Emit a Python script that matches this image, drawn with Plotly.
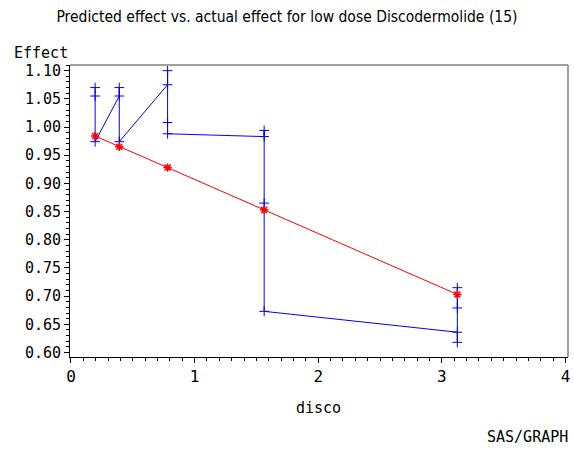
import plotly.graph_objects as go

# Observed (actual) effect, in plotting order
actual_x = [0.1953125, 0.1953125, 0.1953125,
            0.390625, 0.390625, 0.390625,
            0.78125, 0.78125, 0.78125, 0.78125,
            1.5625, 1.5625, 1.5625, 1.5625,
            3.125, 3.125, 3.125, 3.125]
actual_y = [1.070, 1.055, 0.974,
            1.055, 1.070, 0.974,
            1.075, 1.100, 1.008, 0.988,
            0.983, 0.994, 0.865, 0.673,
            0.636, 0.618, 0.715, 0.679]

# Predicted effect
pred_x = [0.1953125, 0.390625, 0.78125, 1.5625, 3.125]
pred_y = [0.984, 0.965, 0.928, 0.853, 0.703]

x_ticks = [0, 1, 2, 3, 4]
x_tick_labels = ["0", "1", "2", "3", "4"]
y_ticks = [0.60, 0.65, 0.70, 0.75, 0.80, 0.85, 0.90, 0.95, 1.00, 1.05, 1.10]
y_tick_labels = ["0.60", "0.65", "0.70", "0.75", "0.80", "0.85",
                 "0.90", "0.95", "1.00", "1.05", "1.10"]

MONO = "DejaVu Sans Mono"
TITLEF = "Liberation Sans Narrow, DejaVu Sans Condensed, Liberation Sans"

fig = go.Figure()
fig.add_trace(go.Scatter(
    x=actual_x, y=actual_y, mode="lines+markers",
    line=dict(color="#0000ff", width=1),
    marker=dict(symbol="cross-thin", size=7, line=dict(color="#0000ff", width=1)),
    showlegend=False, hoverinfo="skip"))
fig.add_trace(go.Scatter(
    x=pred_x, y=pred_y, mode="lines+markers",
    line=dict(color="#ff0000", width=1),
    marker=dict(symbol="asterisk-open", size=7, line=dict(color="#ff0000", width=1.5)),
    showlegend=False, hoverinfo="skip"))

fig.update_layout(
    width=574, height=451,
    margin=dict(l=70, r=6, t=65, b=94, autoexpand=False),
    paper_bgcolor="white", plot_bgcolor="white",
    title=dict(text="Predicted effect vs. actual effect for low dose Discodermolide (15)",
               x=0.5, xref="container", xanchor="center",
               y=1 - 17 / 451, yref="container", yanchor="middle",
               font=dict(family=TITLEF, size=15.5, color="black")),
    xaxis=dict(range=[-0.008, 4.02], showgrid=False, zeroline=False, automargin=False,
               showline=True, linecolor="black", linewidth=1,
               tickvals=x_ticks, ticktext=x_tick_labels, ticklabeloverflow="allow",
               ticks="outside", ticklen=5, tickcolor="black", tickwidth=1,
               minor=dict(dtick=0.1, ticks="outside", ticklen=3, tickcolor="black"),
               tickfont=dict(family=MONO, size=16, color="black")),
    yaxis=dict(range=[0.592, 1.110], showgrid=False, zeroline=False, automargin=False,
               showline=True, linecolor="black", linewidth=1,
               tickvals=y_ticks, ticktext=y_tick_labels, ticklabeloverflow="allow",
               ticks="outside", ticklen=5, tickcolor="black", tickwidth=1,
               minor=dict(dtick=0.01, ticks="outside", ticklen=3, tickcolor="black"),
               tickfont=dict(family=MONO, size=15, color="black")),
    shapes=[
        dict(type="line", xref="paper", yref="paper", x0=0, x1=1, y0=1, y1=1,
             line=dict(color="#808080", width=1.5)),
        dict(type="line", xref="paper", yref="paper", x0=1, x1=1, y0=0, y1=1,
             line=dict(color="#808080", width=1.5)),
    ],
    annotations=[
        dict(text="Effect", xref="paper", yref="paper", x=-0.1165, y=1.041,
             xanchor="left", yanchor="middle", showarrow=False,
             font=dict(family=MONO, size=15, color="black")),
        dict(text="disco", xref="paper", yref="paper", x=0.498, y=-0.1747,
             xanchor="center", yanchor="middle", showarrow=False,
             font=dict(family=MONO, size=15, color="black")),
        dict(text="SAS/GRAPH", xref="paper", yref="paper", x=1.004, y=-0.274,
             xanchor="right", yanchor="middle", showarrow=False,
             font=dict(family=MONO, size=15, color="black")),
    ],
)

fig.write_html("out.html",
               config={"displayModeBar": False},
               post_script="document.body.style.margin='0';document.body.style.overflow='hidden';")
